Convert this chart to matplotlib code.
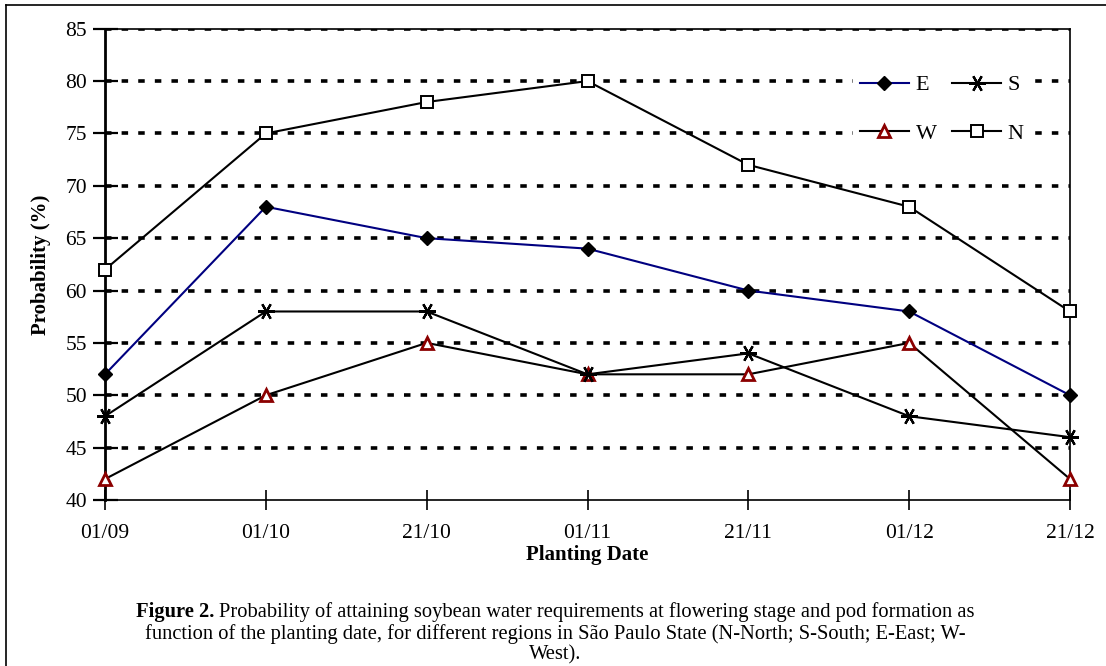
import matplotlib.pyplot as plt
from matplotlib.lines import Line2D

dates = ["01/09", "01/10", "21/10", "01/11", "21/11", "01/12", "21/12"]
east = [52, 68, 65, 64, 60, 58, 50]
south = [48, 58, 58, 52, 54, 48, 46]
west = [42, 50, 55, 52, 52, 55, 42]
north = [62, 75, 78, 80, 72, 68, 58]

plt.rcParams["font.family"] = ["Liberation Serif", "DejaVu Serif"]

fig = plt.figure(figsize=(11.06, 6.66), dpi=100)
ax = fig.add_axes([105 / 1106, 1 - 500 / 666, 965 / 1106, 471.3 / 666])

x = range(len(dates))
ax.plot(x, east, color="#000080", lw=1.5, marker="D", ms=7.5,
        mfc="black", mec="black", label="E", zorder=4, clip_on=False)
ax.plot(x, west, color="black", lw=1.5, marker="^", ms=9,
        mfc="white", mec="#8B0000", mew=2, label="W", zorder=4, clip_on=False)
ax.plot(x, south, color="black", lw=1.5, marker=(6, 2, 30), ms=12,
        mec="black", mew=1.6, label="S", zorder=4, clip_on=False)
ax.plot(x, north, color="black", lw=1.5, marker="s", ms=8.5,
        mfc="white", mec="black", mew=1.4, label="N", zorder=4, clip_on=False)

ax.set_xlim(0, 6)
ax.set_ylim(40, 85)
ax.set_yticks(range(40, 86, 5))
ax.set_xticks(list(x))
ax.set_xticklabels(dates)
ax.tick_params(direction="inout", length=14, width=1.2, labelsize=15.5,
               color="black", pad=4)
ax.tick_params(axis="y", length=18, width=1.6)
ax.tick_params(axis="x", pad=10)
for y in range(45, 86, 5):
    ax.axhline(y, color="black", lw=2.6, ls=(0, (1.8, 2.8)), zorder=1)
for s in ["top", "right"]:
    ax.spines[s].set_linewidth(1.2)
ax.spines["left"].set_linewidth(2)
ax.spines["bottom"].set_linewidth(1.2)

ax.set_ylabel("Probability (%)", fontsize=15, fontweight="bold", labelpad=10)
ax.set_xlabel("Planting Date", fontsize=15, fontweight="bold", labelpad=2)

leg = ax.legend(ncol=2, loc="upper left", bbox_to_anchor=(0.764, 0.94),
                fontsize=16, frameon=True, fancybox=False, edgecolor="none",
                framealpha=1, handlelength=2.2, columnspacing=0.7,
                handletextpad=0.3, labelspacing=1.25, borderpad=0.3)
leg.set_zorder(5)

# outer frame (top and left only visible)
fig.add_artist(Line2D([6 / 1106, 1], [1 - 5 / 666, 1 - 5 / 666],
                      color="black", lw=1.2))
fig.add_artist(Line2D([6 / 1106, 6 / 1106], [0, 1 - 5 / 666],
                      color="black", lw=1.2))

# caption: first line is a bold lead followed by plain text, centred together
cap_size = 14.8
cx = 555 / 1106
bold_part = "Figure 2. "
rest = "Probability of attaining soybean water requirements at flowering stage and pod formation as"
fig.canvas.draw()
r = fig.canvas.get_renderer()
tb = fig.text(0, 1 - 612 / 666, bold_part, fontweight="bold", fontsize=cap_size,
              ha="left", va="center")
tr = fig.text(0, 1 - 612 / 666, rest, fontsize=cap_size, ha="left", va="center")
wb = tb.get_window_extent(r).width / 1106
wr = tr.get_window_extent(r).width / 1106
x0 = cx - (wb + wr) / 2
tb.set_x(x0)
tr.set_x(x0 + wb)
fig.text(cx, 1 - 634 / 666,
         "function of the planting date, for different regions in São Paulo State (N-North; S-South; E-East; W-",
         fontsize=cap_size, ha="center", va="center")
fig.text(cx, 1 - 655 / 666, "West).", fontsize=cap_size,
         ha="center", va="center")

fig.savefig("out.png", dpi=100)
